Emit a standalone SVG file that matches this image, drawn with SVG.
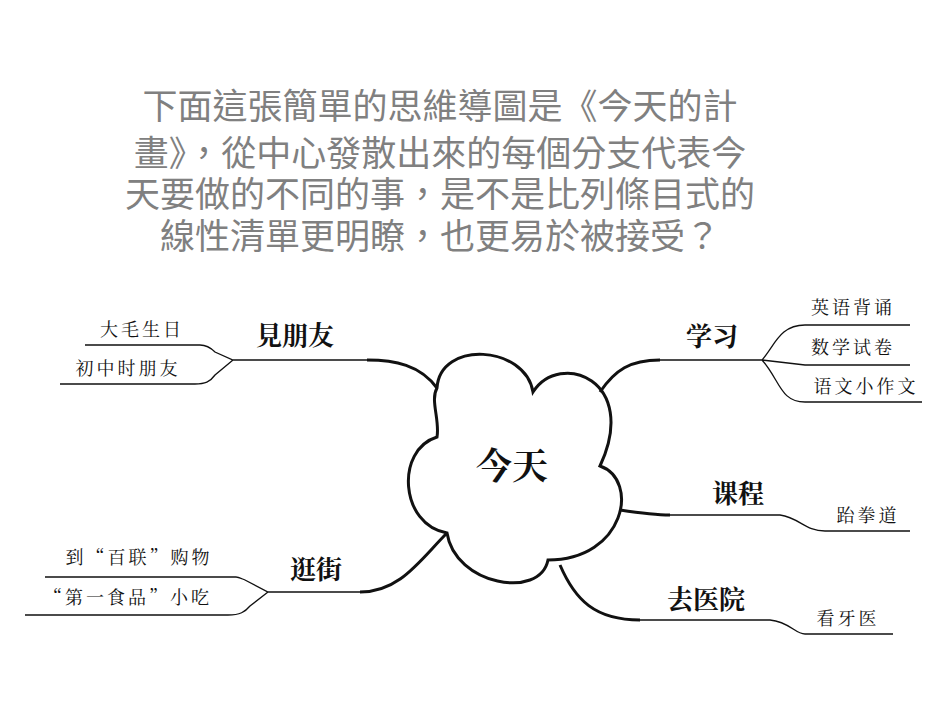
<svg xmlns="http://www.w3.org/2000/svg" width="950" height="713" viewBox="0 0 950 713">
<style>
.t{font-family:"Noto Sans CJK TC","Noto Sans CJK SC",sans-serif;fill:#808080;font-size:35px;text-anchor:middle}
.m{font-family:"Noto Serif CJK SC","Noto Sans CJK SC",serif;font-weight:bold;font-size:26px;text-anchor:middle;fill:#111}
.s{font-family:"Noto Serif CJK SC","Noto Sans CJK SC",serif;font-size:18px;text-anchor:middle;fill:#111;letter-spacing:3px}
.thin{fill:none;stroke:#111;stroke-width:1.3}
.thick{fill:none;stroke:#111;stroke-width:3}
</style>
<rect width="950" height="713" fill="#fff"/>
<g id="title">
<text class="t" x="440" y="119">下面這張簡單的思維導圖是《今天的計</text>
<text class="t" x="440" y="166">畫》，從中心發散出來的每個分支代表今</text>
<text class="t" x="440" y="207">天要做的不同的事，是不是比列條目式的</text>
<text class="t" x="440" y="249">線性清單更明瞭，也更易於被接受？</text>
</g>
<g id="center">
<path class="thick" d="M437,388 C440,340 525,345 533,392 C560,350 640,380 600,466 C640,480 625,560 548,560 C540,600 455,585 447,533 C400,525 395,450 437,437 C440,420 430,400 437,388 Z"/>
<text x="512" y="479" font-family="Noto Serif CJK SC,Noto Sans CJK SC,serif" font-size="36" font-weight="bold" text-anchor="middle" fill="#111">今天</text>
</g>
<g id="connectors">
<path class="thick" d="M437,388 C420,365 395,360 367,360"/>
<path class="thin" d="M367,360 L233,360 L215,352 C210,347 205,345 200,345 L85,345 M233,360 L215,375 C210,382 205,384 195,384 L60,384"/>
<path class="thick" d="M600,392 C615,370 630,360 660,360"/>
<path class="thin" d="M660,360 L762,360 C775,345 780,325 805,325 L910,325 M762,360 L805,365 L910,365 M762,360 C780,380 780,402 805,402 L922,402"/>
<path class="thick" d="M620,510 C640,513 655,515 670,515"/>
<path class="thin" d="M670,515 L780,515 C800,518 805,531 825,531 L910,531"/>
<path class="thick" d="M560,565 C575,600 595,620 640,620"/>
<path class="thin" d="M640,620 L770,620 C790,622 795,634 805,634 L893,634"/>
<path class="thick" d="M447,533 C420,560 400,592 360,592"/>
<path class="thin" d="M360,592 L268,592 L245,580 C240,578 238,577 236,577 L45,577 M268,592 L250,606 C245,612 240,615 228,615 L25,615"/>
</g>
<g id="n1"><text class="m" x="295" y="345">見朋友</text><text class="s" x="142" y="336">大毛生日</text><text class="s" x="128" y="375">初中时朋友</text></g>
<g id="n2"><text class="m" x="712" y="346">学习</text><text class="s" x="853" y="314">英语背诵</text><text class="s" x="853" y="354">数学试卷</text><text class="s" x="866" y="393">语文小作文</text></g>
<g id="n3"><text class="m" x="738" y="503">课程</text><text class="s" x="868" y="522">跆拳道</text></g>
<g id="n4"><text class="m" x="706" y="609">去医院</text><text class="s" x="848" y="625">看牙医</text></g>
<g id="n5"><text class="m" x="316" y="579">逛街</text><text class="s" x="139" y="564">到“百联”购物</text><text class="s" x="128" y="604">“第一食品”小吃</text></g>
</svg>
